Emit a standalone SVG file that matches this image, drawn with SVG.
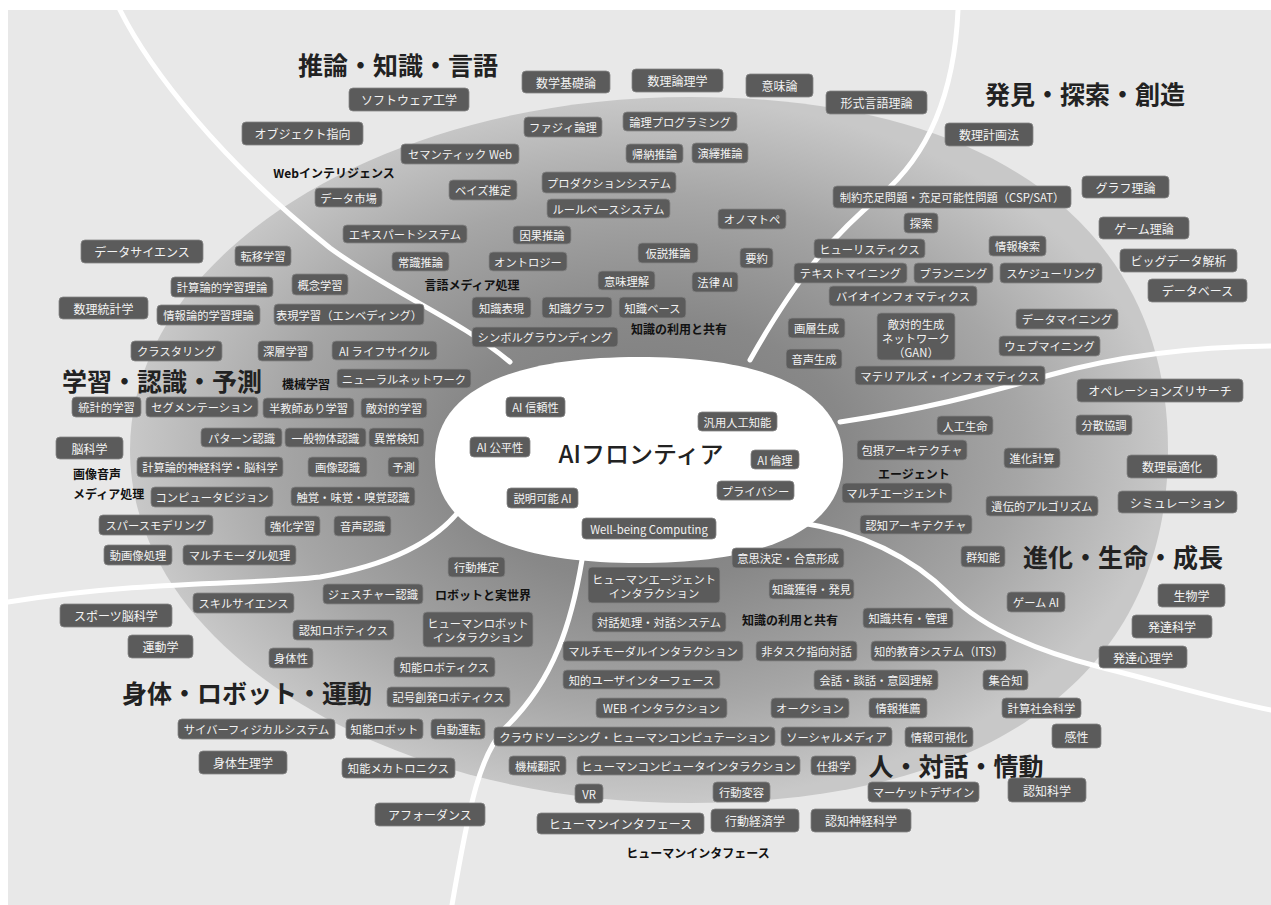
<svg xmlns="http://www.w3.org/2000/svg" width="1271" height="905" viewBox="0 0 1271 905">
<defs>
<radialGradient id="g1" cx="0.5" cy="0.5" r="0.5">
<stop offset="0" stop-color="#7a7a7a"/>
<stop offset="0.38" stop-color="#888888"/>
<stop offset="0.72" stop-color="#a6a6a6"/>
<stop offset="1" stop-color="#c8c8c8"/>
</radialGradient>
<style>
.n rect{fill:#5b5b5b;stroke:#858585;stroke-width:0.8}
.n text{fill:#f3f3f3;font-family:"Noto Sans CJK JP","Noto Sans",sans-serif;font-size:11.3px;text-anchor:middle;dominant-baseline:central}
.o text{font-size:12px}
.lbl{font-family:"Noto Sans CJK JP","Noto Sans",sans-serif;font-size:12px;font-weight:700;fill:#111;text-anchor:middle;dominant-baseline:central}
.ttl{font-family:"Noto Sans CJK JP","Noto Sans",sans-serif;font-size:25px;font-weight:700;fill:#222;text-anchor:middle;dominant-baseline:central}
.div path{fill:none;stroke:#ffffff;stroke-width:5;stroke-linecap:round}
</style>
</defs>
<rect x="0" y="0" width="1271" height="905" fill="#ffffff"/>
<rect x="8" y="10" width="1263" height="895" fill="#e8e8e8"/>
<path d="M130,450 C130,255 381,97 690,97 C990,97 1168,225 1168,450 C1168,675 990,803 690,803 C381,803 130,645 130,450 Z" fill="url(#g1)"/>
<path d="M435,460 C435,393 506,357 639,357 C772,357 843,393 843,460 C843,527 772,563 639,563 C506,563 435,527 435,460 Z" fill="#ffffff"/>
<g id="dividers" class="div">
<path d="M120,10 C150,70 220,160 330,248 C390,292 460,320 510,362"/>
<path d="M958,10 C955,80 935,150 880,196 C830,238 795,280 750,360"/>
<path d="M840,422 C920,410 980,395 1050,375 C1110,358 1180,347 1271,346"/>
<path d="M797,522 C860,532 910,555 950,595 C985,630 1040,652 1100,667 C1160,682 1220,700 1271,710"/>
<path d="M582,560 C572,620 555,680 505,728 C480,755 470,800 452,905"/>
<path d="M465,503 C440,540 390,565 320,577 C250,585 150,580 8,602"/>
</g>
<g id="titles">
<text class="ttl" x="398" y="64">推論・知識・言語</text>
<text class="ttl" x="1085" y="93">発見・探索・創造</text>
<text class="ttl" x="162" y="380">学習・認識・予測</text>
<text class="ttl" x="1123" y="556">進化・生命・成長</text>
<text class="ttl" x="247" y="692">身体・ロボット・運動</text>
<text class="ttl" x="956" y="765">人・対話・情動</text>
</g>
<g id="center"><text x="641" y="452" font-family="'Noto Sans CJK JP','Noto Sans',sans-serif" font-size="24" font-weight="500" fill="#222" text-anchor="middle" dominant-baseline="central">AIフロンティア</text></g>
<g id="labels">
<text class="lbl" x="334" y="172">Webインテリジェンス</text>
<text class="lbl" x="472" y="284">言語メディア処理</text>
<text class="lbl" x="679" y="328">知識の利用と共有</text>
<text class="lbl" x="306" y="383">機械学習</text>
<text class="lbl" x="73" y="473" style="text-anchor:start">画像音声</text>
<text class="lbl" x="73" y="493" style="text-anchor:start">メディア処理</text>
<text class="lbl" x="914" y="473">エージェント</text>
<text class="lbl" x="483" y="594">ロボットと実世界</text>
<text class="lbl" x="790" y="619">知識の利用と共有</text>
<text class="lbl" x="698" y="852">ヒューマンインタフェース</text>
</g>
<g id="n1" class="n"><rect x="524" y="117" width="78" height="20" rx="4"/><text x="563" y="127">ファジィ論理</text></g>
<g id="n2" class="n"><rect x="623" y="112" width="114" height="19" rx="4"/><text x="680" y="121.5">論理プログラミング</text></g>
<g id="n3" class="n"><rect x="401" y="144" width="118" height="20" rx="4"/><text x="460" y="154">セマンティック Web</text></g>
<g id="n4" class="n"><rect x="626" y="144" width="57" height="19" rx="4"/><text x="654.5" y="153.5">帰納推論</text></g>
<g id="n5" class="n"><rect x="692" y="143" width="56" height="20" rx="4"/><text x="720" y="153">演繹推論</text></g>
<g id="n6" class="n"><rect x="315" y="188" width="67" height="19" rx="4"/><text x="348.5" y="197.5">データ市場</text></g>
<g id="n7" class="n"><rect x="449" y="180" width="68" height="20" rx="4"/><text x="483" y="190">ベイズ推定</text></g>
<g id="n8" class="n"><rect x="542" y="172" width="134" height="21" rx="4"/><text x="609" y="182.5">プロダクションシステム</text></g>
<g id="n9" class="n"><rect x="547" y="199" width="123" height="19" rx="4"/><text x="608.5" y="208.5">ルールベースシステム</text></g>
<g id="n10" class="n"><rect x="718" y="209" width="68" height="20" rx="4"/><text x="752" y="219">オノマトペ</text></g>
<g id="n11" class="n"><rect x="343" y="225" width="124" height="18" rx="4"/><text x="405" y="234">エキスパートシステム</text></g>
<g id="n12" class="n"><rect x="513" y="226" width="58" height="18" rx="4"/><text x="542" y="235">因果推論</text></g>
<g id="n13" class="n"><rect x="638" y="243" width="60" height="20" rx="4"/><text x="668" y="253">仮説推論</text></g>
<g id="n14" class="n"><rect x="740" y="248" width="33" height="20" rx="4"/><text x="756.5" y="258">要約</text></g>
<g id="n15" class="n"><rect x="392" y="252" width="57" height="19" rx="4"/><text x="420.5" y="261.5">常識推論</text></g>
<g id="n16" class="n"><rect x="489" y="252" width="78" height="19" rx="4"/><text x="528" y="261.5">オントロジー</text></g>
<g id="n17" class="n"><rect x="598" y="271" width="57" height="19" rx="4"/><text x="626.5" y="280.5">意味理解</text></g>
<g id="n18" class="n"><rect x="692" y="272" width="46" height="20" rx="4"/><text x="715" y="282">法律 AI</text></g>
<g id="n19" class="n"><rect x="472" y="297" width="59" height="21" rx="4"/><text x="501.5" y="307.5">知識表現</text></g>
<g id="n20" class="n"><rect x="542" y="297" width="70" height="21" rx="4"/><text x="577" y="307.5">知識グラフ</text></g>
<g id="n21" class="n"><rect x="619" y="297" width="67" height="21" rx="4"/><text x="652.5" y="307.5">知識ベース</text></g>
<g id="n22" class="n"><rect x="472" y="327" width="146" height="20" rx="4"/><text x="545" y="337">シンボルグラウンディング</text></g>
<g id="n23" class="n"><rect x="235" y="246" width="56" height="20" rx="4"/><text x="263" y="256">転移学習</text></g>
<g id="n24" class="n"><rect x="171" y="277" width="102" height="20" rx="4"/><text x="222" y="287">計算論的学習理論</text></g>
<g id="n25" class="n"><rect x="292" y="274" width="56" height="21" rx="4"/><text x="320" y="284.5">概念学習</text></g>
<g id="n26" class="n"><rect x="157" y="305" width="103" height="20" rx="4"/><text x="208.5" y="315">情報論的学習理論</text></g>
<g id="n27" class="n"><rect x="274" y="304" width="150" height="21" rx="4"/><text x="349" y="314.5">表現学習（エンベディング）</text></g>
<g id="n28" class="n"><rect x="131" y="341" width="91" height="20" rx="4"/><text x="176.5" y="351">クラスタリング</text></g>
<g id="n29" class="n"><rect x="258" y="341" width="55" height="20" rx="4"/><text x="285.5" y="351">深層学習</text></g>
<g id="n30" class="n"><rect x="332" y="341" width="105" height="19" rx="4"/><text x="384.5" y="350.5">AI ライフサイクル</text></g>
<g id="n31" class="n"><rect x="337" y="369" width="134" height="19" rx="4"/><text x="404" y="378.5">ニューラルネットワーク</text></g>
<g id="n32" class="n"><rect x="72" y="397" width="69" height="20" rx="4"/><text x="106.5" y="407">統計的学習</text></g>
<g id="n33" class="n"><rect x="146" y="397" width="112" height="20" rx="4"/><text x="202" y="407">セグメンテーション</text></g>
<g id="n34" class="n"><rect x="263" y="398" width="91" height="20" rx="4"/><text x="308.5" y="408">半教師あり学習</text></g>
<g id="n35" class="n"><rect x="361" y="398" width="66" height="20" rx="4"/><text x="394" y="408">敵対的学習</text></g>
<g id="n36" class="n"><rect x="201" y="428" width="81" height="19" rx="4"/><text x="241.5" y="437.5">パターン認識</text></g>
<g id="n37" class="n"><rect x="285" y="428" width="81" height="19" rx="4"/><text x="325.5" y="437.5">一般物体認識</text></g>
<g id="n38" class="n"><rect x="369" y="428" width="55" height="19" rx="4"/><text x="396.5" y="437.5">異常検知</text></g>
<g id="n39" class="n"><rect x="137" y="457" width="146" height="20" rx="4"/><text x="210" y="467">計算論的神経科学・脳科学</text></g>
<g id="n40" class="n"><rect x="308" y="457" width="59" height="20" rx="4"/><text x="337.5" y="467">画像認識</text></g>
<g id="n41" class="n"><rect x="388" y="457" width="31" height="20" rx="4"/><text x="403.5" y="467">予測</text></g>
<g id="n42" class="n"><rect x="151" y="487" width="122" height="20" rx="4"/><text x="212" y="497">コンピュータビジョン</text></g>
<g id="n43" class="n"><rect x="291" y="487" width="124" height="19" rx="4"/><text x="353" y="496.5">触覚・味覚・嗅覚認識</text></g>
<g id="n44" class="n"><rect x="99" y="515" width="114" height="20" rx="4"/><text x="156" y="525">スパースモデリング</text></g>
<g id="n45" class="n"><rect x="265" y="516" width="55" height="20" rx="4"/><text x="292.5" y="526">強化学習</text></g>
<g id="n46" class="n"><rect x="334" y="516" width="57" height="20" rx="4"/><text x="362.5" y="526">音声認識</text></g>
<g id="n47" class="n"><rect x="104" y="545" width="68" height="20" rx="4"/><text x="138" y="555">動画像処理</text></g>
<g id="n48" class="n"><rect x="183" y="545" width="113" height="20" rx="4"/><text x="239.5" y="555">マルチモーダル処理</text></g>
<g id="n49" class="n"><rect x="506" y="397" width="59" height="20" rx="4"/><text x="535.5" y="407">AI 信頼性</text></g>
<g id="n50" class="n"><rect x="470" y="437" width="60" height="20" rx="4"/><text x="500" y="447">AI 公平性</text></g>
<g id="n51" class="n"><rect x="507" y="488" width="71" height="20" rx="4"/><text x="542.5" y="498">説明可能 AI</text></g>
<g id="n52" class="n"><rect x="582" y="518" width="134" height="21" rx="4"/><text x="649" y="528.5">Well-being Computing</text></g>
<g id="n53" class="n"><rect x="698" y="412" width="79" height="19" rx="4"/><text x="737.5" y="421.5">汎用人工知能</text></g>
<g id="n54" class="n"><rect x="751" y="450" width="48" height="19" rx="4"/><text x="775" y="459.5">AI 倫理</text></g>
<g id="n55" class="n"><rect x="717" y="481" width="77" height="19" rx="4"/><text x="755.5" y="490.5">プライバシー</text></g>
<g id="n56" class="n"><rect x="833" y="186" width="238" height="22" rx="4"/><text x="952" y="197">制約充足問題・充足可能性問題（CSP/SAT）</text></g>
<g id="n57" class="n"><rect x="904" y="213" width="34" height="20" rx="4"/><text x="921" y="223">探索</text></g>
<g id="n58" class="n"><rect x="814" y="239" width="111" height="19" rx="4"/><text x="869.5" y="248.5">ヒューリスティクス</text></g>
<g id="n59" class="n"><rect x="989" y="236" width="57" height="20" rx="4"/><text x="1017.5" y="246">情報検索</text></g>
<g id="n60" class="n"><rect x="794" y="263" width="113" height="20" rx="4"/><text x="850.5" y="273">テキストマイニング</text></g>
<g id="n61" class="n"><rect x="914" y="263" width="79" height="20" rx="4"/><text x="953.5" y="273">プランニング</text></g>
<g id="n62" class="n"><rect x="1000" y="263" width="102" height="20" rx="4"/><text x="1051" y="273">スケジューリング</text></g>
<g id="n63" class="n"><rect x="829" y="286" width="148" height="20" rx="4"/><text x="903" y="296">バイオインフォマティクス</text></g>
<g id="n64" class="n"><rect x="788" y="318" width="57" height="20" rx="4"/><text x="816.5" y="328">画層生成</text></g>
<g id="n65" class="n"><rect x="877" y="313" width="78" height="47" rx="4"/><text x="916" y="323.5">敵対的生成</text><text x="916" y="337.5">ネットワーク</text><text x="916" y="351.5">（GAN）</text></g>
<g id="n66" class="n"><rect x="786" y="349" width="56" height="20" rx="4"/><text x="814" y="359">音声生成</text></g>
<g id="n67" class="n"><rect x="1016" y="309" width="102" height="20" rx="4"/><text x="1067" y="319">データマイニング</text></g>
<g id="n68" class="n"><rect x="999" y="336" width="101" height="20" rx="4"/><text x="1049.5" y="346">ウェブマイニング</text></g>
<g id="n69" class="n"><rect x="855" y="366" width="190" height="19" rx="4"/><text x="950" y="375.5">マテリアルズ・インフォマティクス</text></g>
<g id="n70" class="n"><rect x="937" y="416" width="56" height="19" rx="4"/><text x="965" y="425.5">人工生命</text></g>
<g id="n71" class="n"><rect x="1076" y="415" width="56" height="20" rx="4"/><text x="1104" y="425">分散協調</text></g>
<g id="n72" class="n"><rect x="857" y="440" width="110" height="20" rx="4"/><text x="912" y="450">包摂アーキテクチャ</text></g>
<g id="n73" class="n"><rect x="1004" y="448" width="56" height="20" rx="4"/><text x="1032" y="458">進化計算</text></g>
<g id="n74" class="n"><rect x="842" y="483" width="110" height="20" rx="4"/><text x="897" y="493">マルチエージェント</text></g>
<g id="n75" class="n"><rect x="986" y="496" width="112" height="20" rx="4"/><text x="1042" y="506">遺伝的アルゴリズム</text></g>
<g id="n76" class="n"><rect x="860" y="515" width="112" height="19" rx="4"/><text x="916" y="524.5">認知アーキテクチャ</text></g>
<g id="n77" class="n"><rect x="961" y="546" width="44" height="21" rx="4"/><text x="983" y="556.5">群知能</text></g>
<g id="n78" class="n"><rect x="1007" y="592" width="58" height="20" rx="4"/><text x="1036" y="602">ゲーム AI</text></g>
<g id="n79" class="n"><rect x="732" y="548" width="112" height="20" rx="4"/><text x="788" y="558">意思決定・合意形成</text></g>
<g id="n80" class="n"><rect x="769" y="579" width="85" height="20" rx="4"/><text x="811.5" y="589">知識獲得・発見</text></g>
<g id="n81" class="n"><rect x="588" y="567" width="132" height="36" rx="4"/><text x="654" y="578.5">ヒューマンエージェント</text><text x="654" y="592.5">インタラクション</text></g>
<g id="n82" class="n"><rect x="448" y="557" width="57" height="20" rx="4"/><text x="476.5" y="567">行動推定</text></g>
<g id="n83" class="n"><rect x="323" y="584" width="100" height="20" rx="4"/><text x="373" y="594">ジェスチャー認識</text></g>
<g id="n84" class="n"><rect x="193" y="593" width="101" height="20" rx="4"/><text x="243.5" y="603">スキルサイエンス</text></g>
<g id="n85" class="n"><rect x="293" y="620" width="101" height="20" rx="4"/><text x="343.5" y="630">認知ロボティクス</text></g>
<g id="n86" class="n"><rect x="269" y="648" width="44" height="20" rx="4"/><text x="291" y="658">身体性</text></g>
<g id="n87" class="n"><rect x="423" y="612" width="110" height="35" rx="4"/><text x="478" y="623">ヒューマンロボット</text><text x="478" y="637">インタラクション</text></g>
<g id="n88" class="n"><rect x="394" y="657" width="101" height="20" rx="4"/><text x="444.5" y="667">知能ロボティクス</text></g>
<g id="n89" class="n"><rect x="387" y="687" width="123" height="20" rx="4"/><text x="448.5" y="697">記号創発ロボティクス</text></g>
<g id="n90" class="n"><rect x="178" y="719" width="157" height="20" rx="4"/><text x="256.5" y="729">サイバーフィジカルシステム</text></g>
<g id="n91" class="n"><rect x="346" y="719" width="77" height="20" rx="4"/><text x="384.5" y="729">知能ロボット</text></g>
<g id="n92" class="n"><rect x="431" y="719" width="54" height="20" rx="4"/><text x="458" y="729">自動運転</text></g>
<g id="n93" class="n"><rect x="342" y="758" width="113" height="20" rx="4"/><text x="398.5" y="768">知能メカトロニクス</text></g>
<g id="n94" class="n"><rect x="592" y="612" width="134" height="20" rx="4"/><text x="659" y="622">対話処理・対話システム</text></g>
<g id="n95" class="n"><rect x="863" y="608" width="90" height="20" rx="4"/><text x="908" y="618">知識共有・管理</text></g>
<g id="n96" class="n"><rect x="563" y="641" width="180" height="20" rx="4"/><text x="653" y="651">マルチモーダルインタラクション</text></g>
<g id="n97" class="n"><rect x="756" y="641" width="101" height="20" rx="4"/><text x="806.5" y="651">非タスク指向対話</text></g>
<g id="n98" class="n"><rect x="871" y="641" width="135" height="20" rx="4"/><text x="938.5" y="651">知的教育システム（ITS）</text></g>
<g id="n99" class="n"><rect x="563" y="670" width="157" height="19" rx="4"/><text x="641.5" y="679.5">知的ユーザインターフェース</text></g>
<g id="n100" class="n"><rect x="814" y="670" width="124" height="20" rx="4"/><text x="876" y="680">会話・談話・意図理解</text></g>
<g id="n101" class="n"><rect x="983" y="670" width="45" height="20" rx="4"/><text x="1005.5" y="680">集合知</text></g>
<g id="n102" class="n"><rect x="596" y="698" width="131" height="20" rx="4"/><text x="661.5" y="708">WEB インタラクション</text></g>
<g id="n103" class="n"><rect x="771" y="698" width="78" height="20" rx="4"/><text x="810" y="708">オークション</text></g>
<g id="n104" class="n"><rect x="869" y="698" width="58" height="20" rx="4"/><text x="898" y="708">情報推薦</text></g>
<g id="n105" class="n"><rect x="1002" y="698" width="79" height="20" rx="4"/><text x="1041.5" y="708">計算社会科学</text></g>
<g id="n106" class="n"><rect x="494" y="727" width="281" height="19" rx="4"/><text x="634.5" y="736.5">クラウドソーシング・ヒューマンコンピュテーション</text></g>
<g id="n107" class="n"><rect x="781" y="727" width="111" height="19" rx="4"/><text x="836.5" y="736.5">ソーシャルメディア</text></g>
<g id="n108" class="n"><rect x="905" y="727" width="68" height="20" rx="4"/><text x="939" y="736.5">情報可視化</text></g>
<g id="n109" class="n"><rect x="509" y="756" width="57" height="19" rx="4"/><text x="537.5" y="765.5">機械翻訳</text></g>
<g id="n110" class="n"><rect x="577" y="756" width="223" height="19" rx="4"/><text x="688.5" y="765.5">ヒューマンコンピュータインタラクション</text></g>
<g id="n111" class="n"><rect x="811" y="756" width="45" height="19" rx="4"/><text x="833.5" y="765.5">仕掛学</text></g>
<g id="n112" class="n"><rect x="575" y="784" width="28" height="19" rx="4"/><text x="589" y="793.5">VR</text></g>
<g id="n113" class="n"><rect x="713" y="782" width="57" height="20" rx="4"/><text x="741.5" y="792">行動変容</text></g>
<g id="n114" class="n"><rect x="868" y="782" width="111" height="20" rx="4"/><text x="923.5" y="792">マーケットデザイン</text></g>
<g id="n115" class="n o"><rect x="349" y="88" width="120" height="23" rx="4"/><text x="409" y="99.5">ソフトウェア工学</text></g>
<g id="n116" class="n o"><rect x="242" y="122" width="121" height="23" rx="4"/><text x="302.5" y="133.5">オブジェクト指向</text></g>
<g id="n117" class="n o"><rect x="522" y="71" width="88" height="22" rx="4"/><text x="566" y="82">数学基礎論</text></g>
<g id="n118" class="n o"><rect x="632" y="69" width="91" height="23" rx="4"/><text x="677.5" y="80.5">数理論理学</text></g>
<g id="n119" class="n o"><rect x="746" y="74" width="67" height="23" rx="4"/><text x="779.5" y="85.5">意味論</text></g>
<g id="n120" class="n o"><rect x="826" y="91" width="101" height="23" rx="4"/><text x="876.5" y="102.5">形式言語理論</text></g>
<g id="n121" class="n o"><rect x="945" y="123" width="88" height="23" rx="4"/><text x="989" y="134.5">数理計画法</text></g>
<g id="n122" class="n o"><rect x="1082" y="176" width="87" height="22" rx="4"/><text x="1125.5" y="187">グラフ理論</text></g>
<g id="n123" class="n o"><rect x="1099" y="217" width="90" height="22" rx="4"/><text x="1144" y="228">ゲーム理論</text></g>
<g id="n124" class="n o"><rect x="1120" y="249" width="117" height="23" rx="4"/><text x="1178.5" y="260.5">ビッグデータ解析</text></g>
<g id="n125" class="n o"><rect x="1148" y="279" width="99" height="23" rx="4"/><text x="1197.5" y="290.5">データベース</text></g>
<g id="n126" class="n o"><rect x="81" y="240" width="122" height="23" rx="4"/><text x="142" y="251.5">データサイエンス</text></g>
<g id="n127" class="n o"><rect x="59" y="297" width="89" height="22" rx="4"/><text x="103.5" y="308">数理統計学</text></g>
<g id="n128" class="n o"><rect x="56" y="437" width="67" height="22" rx="4"/><text x="89.5" y="448">脳科学</text></g>
<g id="n129" class="n o"><rect x="1077" y="379" width="166" height="23" rx="4"/><text x="1160" y="390.5">オペレーションズリサーチ</text></g>
<g id="n130" class="n o"><rect x="1127" y="455" width="90" height="23" rx="4"/><text x="1172" y="466.5">数理最適化</text></g>
<g id="n131" class="n o"><rect x="1118" y="491" width="119" height="22" rx="4"/><text x="1177.5" y="502">シミュレーション</text></g>
<g id="n132" class="n o"><rect x="1158" y="584" width="67" height="23" rx="4"/><text x="1191.5" y="595.5">生物学</text></g>
<g id="n133" class="n o"><rect x="1132" y="615" width="80" height="23" rx="4"/><text x="1172" y="626.5">発達科学</text></g>
<g id="n134" class="n o"><rect x="1099" y="646" width="88" height="22" rx="4"/><text x="1143" y="657">発達心理学</text></g>
<g id="n135" class="n o"><rect x="1052" y="724" width="49" height="24" rx="4"/><text x="1076.5" y="736">感性</text></g>
<g id="n136" class="n o"><rect x="1008" y="778" width="78" height="24" rx="4"/><text x="1047" y="790">認知科学</text></g>
<g id="n137" class="n o"><rect x="60" y="604" width="112" height="23" rx="4"/><text x="116" y="615.5">スポーツ脳科学</text></g>
<g id="n138" class="n o"><rect x="128" y="635" width="65" height="23" rx="4"/><text x="160.5" y="646.5">運動学</text></g>
<g id="n139" class="n o"><rect x="199" y="751" width="88" height="23" rx="4"/><text x="243" y="762.5">身体生理学</text></g>
<g id="n140" class="n o"><rect x="375" y="803" width="110" height="23" rx="4"/><text x="430" y="814.5">アフォーダンス</text></g>
<g id="n141" class="n o"><rect x="537" y="813" width="167" height="21" rx="4"/><text x="620.5" y="823.5">ヒューマンインタフェース</text></g>
<g id="n142" class="n o"><rect x="711" y="809" width="88" height="23" rx="4"/><text x="755" y="820.5">行動経済学</text></g>
<g id="n143" class="n o"><rect x="811" y="809" width="100" height="23" rx="4"/><text x="861" y="820.5">認知神経科学</text></g>
</svg>
